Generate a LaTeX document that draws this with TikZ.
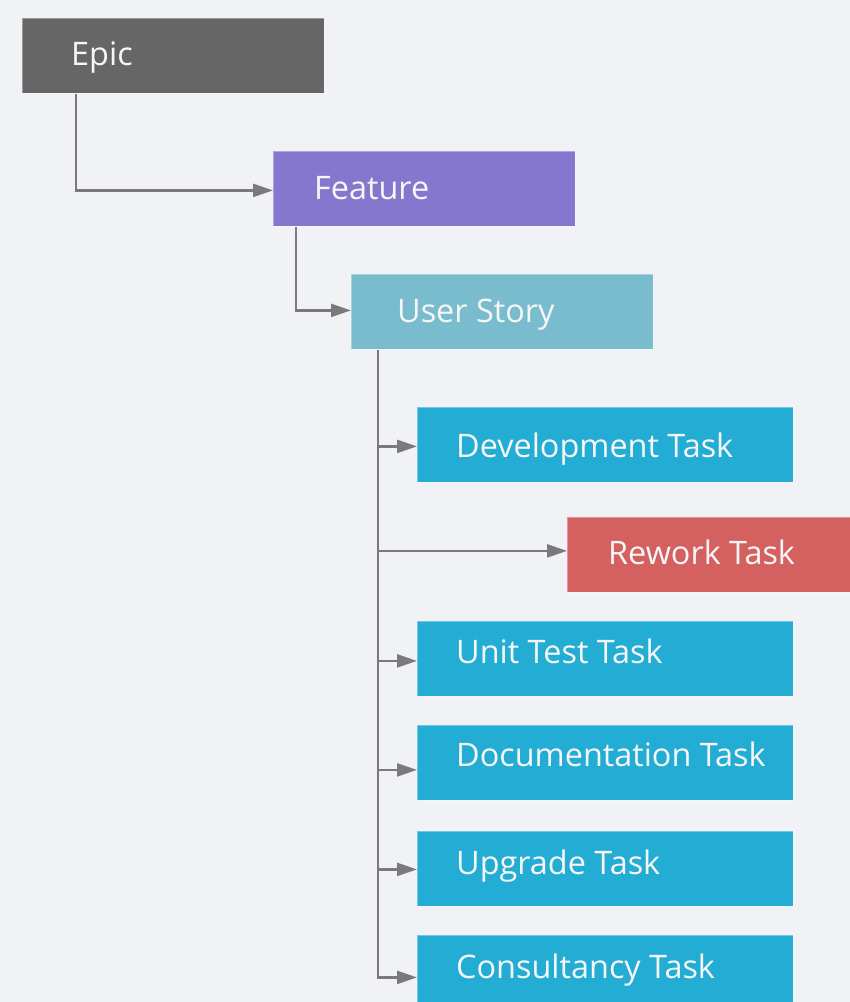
\documentclass[tikz,border=0pt]{standalone}
\usepackage{fontspec}
\setmainfont{Open Sans}
\usetikzlibrary{arrows.meta,calc}
\definecolor{bgc}{HTML}{F0F2F6}
\definecolor{epicc}{HTML}{666666}
\definecolor{featc}{HTML}{8577CD}
\definecolor{storyc}{HTML}{78BCCD}
\definecolor{taskc}{HTML}{23ADD5}
\definecolor{reworkc}{HTML}{D46060}
\definecolor{linec}{HTML}{7A7A7A}
\definecolor{txtc}{HTML}{F6F6F6}
\begin{document}
\begin{tikzpicture}[x=1pt,y=-1pt,
  box/.style={anchor=north west, minimum height=75pt, inner sep=0pt, draw=white, draw opacity=0.35, line width=0.8pt},
  lbl/.style={anchor=base west, inner sep=0pt, text=txtc, font=\fontsize{32.4}{38}\selectfont},
  conn/.style={draw=linec, line width=2.4pt, -{Triangle[length=20pt,width=13pt]}},
  trunk/.style={draw=linec, line width=2.4pt}]
\fill[bgc] (0,0) rectangle (850,1002);
\useasboundingbox (0,0) rectangle (850,1002);

\node[box, fill=epicc, minimum width=302pt] (epic) at (22,18) {};
\node[box, fill=featc, minimum width=302pt] (feature) at (273,151) {};
\node[box, fill=storyc, minimum width=302pt] (story) at (351,274) {};
\node[box, fill=taskc, minimum width=376pt] (dev) at (417,407) {};
\node[box, fill=reworkc, minimum width=300pt] (rework) at (567,517) {};
\node[box, fill=taskc, minimum width=376pt] (unit) at (417,621) {};
\node[box, fill=taskc, minimum width=376pt] (doc) at (417,725) {};
\node[box, fill=taskc, minimum width=376pt] (upg) at (417,831) {};
\node[box, fill=taskc, minimum width=376pt] (cons) at (417,935) {};

\node[lbl] (epict) at (71,65) {Epic};
\node[lbl] (featt) at (314,199) {Feature};
\node[lbl] (storyt) at (397,322) {User Story};
\node[lbl] (devt) at (456,457) {Development Task};
\node[lbl] (reworkt) at (608,564) {Rework Task};
\node[lbl] (unitt) at (456,663) {Unit Test Task};
\node[lbl] (doct) at (456,766) {Documentation Task};
\node[lbl] (upgt) at (456,874) {Upgrade Task};
\node[lbl] (const) at (456,978) {Consultancy Task};

\draw[conn] ($(epic.south west)+(54,0)$) |- ($(feature.west)+(0,1.5)$);
\draw[conn] ($(feature.south west)+(23,0)$) |- ($(story.west)+(0,-1.5)$);

\coordinate (t) at ($(story.south west)+(27,0)$);
\coordinate (devp) at ($(dev.west)+(0,1.5)$);
\coordinate (rewp) at ($(rework.west)+(0,-4)$);
\coordinate (unitp) at ($(unit.west)+(0,2)$);
\coordinate (docp) at ($(doc.west)+(0,7)$);
\coordinate (upgp) at ($(upg.west)+(0,0.5)$);
\coordinate (consp) at ($(cons.west)+(0,4.5)$);
\draw[conn] (t) |- (consp);
\foreach \p in {devp,rewp,unitp,docp,upgp}
  \draw[conn] (t |- \p) -- (\p);
\end{tikzpicture}
\end{document}
